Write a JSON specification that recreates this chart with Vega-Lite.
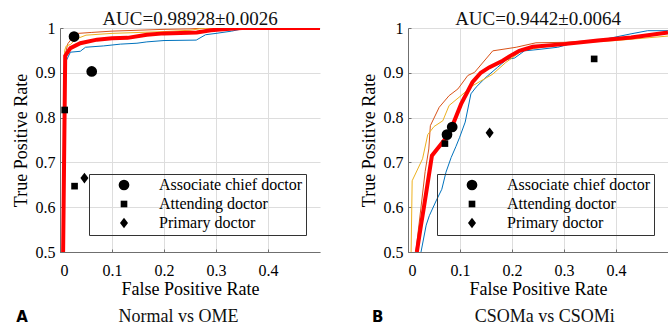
{
  "$schema": "https://vega.github.io/schema/vega-lite/v6.json",
  "padding": {"left": 12, "top": 10, "right": 0, "bottom": 0},
  "background": "white",
  "config": {
    "font": "Liberation Serif",
    "view": {"stroke": null},
    "legend": {"strokeColor": "#333333", "strokeWidth": 1},
    "title": {
      "font": "Liberation Serif",
      "fontSize": 19,
      "fontWeight": "normal",
      "color": "#111111",
      "frame": "group",
      "anchor": "middle",
      "baseline": "alphabetic",
      "offset": -9
    }
  },
  "datasets": {
    "curves": [
      {"panel": "A", "model": "Model 1", "fpr": 0.007, "tpr": 0.5},
      {"panel": "A", "model": "Model 1", "fpr": 0.010, "tpr": 0.9},
      {"panel": "A", "model": "Model 1", "fpr": 0.012, "tpr": 0.927},
      {"panel": "A", "model": "Model 1", "fpr": 0.020, "tpr": 0.946},
      {"panel": "A", "model": "Model 1", "fpr": 0.039, "tpr": 0.948},
      {"panel": "A", "model": "Model 1", "fpr": 0.049, "tpr": 0.957},
      {"panel": "A", "model": "Model 1", "fpr": 0.084, "tpr": 0.96},
      {"panel": "A", "model": "Model 1", "fpr": 0.116, "tpr": 0.964},
      {"panel": "A", "model": "Model 1", "fpr": 0.148, "tpr": 0.966},
      {"panel": "A", "model": "Model 1", "fpr": 0.167, "tpr": 0.969},
      {"panel": "A", "model": "Model 1", "fpr": 0.2, "tpr": 0.972},
      {"panel": "A", "model": "Model 1", "fpr": 0.262, "tpr": 0.973},
      {"panel": "A", "model": "Model 1", "fpr": 0.28, "tpr": 0.985},
      {"panel": "A", "model": "Model 1", "fpr": 0.3, "tpr": 0.988},
      {"panel": "A", "model": "Model 1", "fpr": 0.33, "tpr": 0.993},
      {"panel": "A", "model": "Model 1", "fpr": 0.35, "tpr": 0.998},
      {"panel": "A", "model": "Model 1", "fpr": 0.38, "tpr": 1.0},
      {"panel": "A", "model": "Model 1", "fpr": 0.5, "tpr": 1.0},
      {"panel": "A", "model": "Model 2", "fpr": 0.007, "tpr": 0.5},
      {"panel": "A", "model": "Model 2", "fpr": 0.010, "tpr": 0.94},
      {"panel": "A", "model": "Model 2", "fpr": 0.015, "tpr": 0.965},
      {"panel": "A", "model": "Model 2", "fpr": 0.025, "tpr": 0.98},
      {"panel": "A", "model": "Model 2", "fpr": 0.035, "tpr": 0.988},
      {"panel": "A", "model": "Model 2", "fpr": 0.06, "tpr": 0.99},
      {"panel": "A", "model": "Model 2", "fpr": 0.1, "tpr": 0.993},
      {"panel": "A", "model": "Model 2", "fpr": 0.15, "tpr": 0.995},
      {"panel": "A", "model": "Model 2", "fpr": 0.2, "tpr": 0.997},
      {"panel": "A", "model": "Model 2", "fpr": 0.25, "tpr": 0.998},
      {"panel": "A", "model": "Model 2", "fpr": 0.28, "tpr": 1.0},
      {"panel": "A", "model": "Model 2", "fpr": 0.5, "tpr": 1.0},
      {"panel": "A", "model": "Model 3", "fpr": 0.006, "tpr": 0.5},
      {"panel": "A", "model": "Model 3", "fpr": 0.009, "tpr": 0.95},
      {"panel": "A", "model": "Model 3", "fpr": 0.012, "tpr": 0.96},
      {"panel": "A", "model": "Model 3", "fpr": 0.02, "tpr": 0.963},
      {"panel": "A", "model": "Model 3", "fpr": 0.03, "tpr": 0.975},
      {"panel": "A", "model": "Model 3", "fpr": 0.05, "tpr": 0.984},
      {"panel": "A", "model": "Model 3", "fpr": 0.1, "tpr": 0.988},
      {"panel": "A", "model": "Model 3", "fpr": 0.2, "tpr": 0.992},
      {"panel": "A", "model": "Model 3", "fpr": 0.25, "tpr": 0.995},
      {"panel": "A", "model": "Model 3", "fpr": 0.28, "tpr": 1.0},
      {"panel": "A", "model": "Model 3", "fpr": 0.5, "tpr": 1.0},
      {"panel": "A", "model": "Mean", "fpr": 0.006, "tpr": 0.5},
      {"panel": "A", "model": "Mean", "fpr": 0.010, "tpr": 0.938},
      {"panel": "A", "model": "Mean", "fpr": 0.020, "tpr": 0.955},
      {"panel": "A", "model": "Mean", "fpr": 0.039, "tpr": 0.966},
      {"panel": "A", "model": "Mean", "fpr": 0.071, "tpr": 0.974},
      {"panel": "A", "model": "Mean", "fpr": 0.1, "tpr": 0.977},
      {"panel": "A", "model": "Mean", "fpr": 0.13, "tpr": 0.978},
      {"panel": "A", "model": "Mean", "fpr": 0.167, "tpr": 0.985},
      {"panel": "A", "model": "Mean", "fpr": 0.2, "tpr": 0.988},
      {"panel": "A", "model": "Mean", "fpr": 0.263, "tpr": 0.99},
      {"panel": "A", "model": "Mean", "fpr": 0.29, "tpr": 0.995},
      {"panel": "A", "model": "Mean", "fpr": 0.32, "tpr": 0.998},
      {"panel": "A", "model": "Mean", "fpr": 0.35, "tpr": 1.0},
      {"panel": "A", "model": "Mean", "fpr": 0.5, "tpr": 1.0},
      {"panel": "B", "model": "Model 1", "fpr": 0.025, "tpr": 0.5},
      {"panel": "B", "model": "Model 1", "fpr": 0.035, "tpr": 0.56},
      {"panel": "B", "model": "Model 1", "fpr": 0.041, "tpr": 0.581},
      {"panel": "B", "model": "Model 1", "fpr": 0.054, "tpr": 0.614},
      {"panel": "B", "model": "Model 1", "fpr": 0.065, "tpr": 0.64},
      {"panel": "B", "model": "Model 1", "fpr": 0.073, "tpr": 0.678},
      {"panel": "B", "model": "Model 1", "fpr": 0.083, "tpr": 0.711},
      {"panel": "B", "model": "Model 1", "fpr": 0.092, "tpr": 0.735},
      {"panel": "B", "model": "Model 1", "fpr": 0.099, "tpr": 0.755},
      {"panel": "B", "model": "Model 1", "fpr": 0.11, "tpr": 0.79},
      {"panel": "B", "model": "Model 1", "fpr": 0.121, "tpr": 0.853},
      {"panel": "B", "model": "Model 1", "fpr": 0.131, "tpr": 0.868},
      {"panel": "B", "model": "Model 1", "fpr": 0.15, "tpr": 0.89},
      {"panel": "B", "model": "Model 1", "fpr": 0.172, "tpr": 0.912},
      {"panel": "B", "model": "Model 1", "fpr": 0.19, "tpr": 0.93},
      {"panel": "B", "model": "Model 1", "fpr": 0.205, "tpr": 0.933},
      {"panel": "B", "model": "Model 1", "fpr": 0.224, "tpr": 0.949},
      {"panel": "B", "model": "Model 1", "fpr": 0.25, "tpr": 0.952},
      {"panel": "B", "model": "Model 1", "fpr": 0.288, "tpr": 0.957},
      {"panel": "B", "model": "Model 1", "fpr": 0.31, "tpr": 0.964},
      {"panel": "B", "model": "Model 1", "fpr": 0.365, "tpr": 0.972},
      {"panel": "B", "model": "Model 1", "fpr": 0.4, "tpr": 0.98},
      {"panel": "B", "model": "Model 1", "fpr": 0.429, "tpr": 0.987},
      {"panel": "B", "model": "Model 1", "fpr": 0.461, "tpr": 0.994},
      {"panel": "B", "model": "Model 1", "fpr": 0.5, "tpr": 0.994},
      {"panel": "B", "model": "Model 2", "fpr": 0.015, "tpr": 0.5},
      {"panel": "B", "model": "Model 2", "fpr": 0.025, "tpr": 0.6},
      {"panel": "B", "model": "Model 2", "fpr": 0.033, "tpr": 0.68},
      {"panel": "B", "model": "Model 2", "fpr": 0.040, "tpr": 0.73},
      {"panel": "B", "model": "Model 2", "fpr": 0.043, "tpr": 0.782},
      {"panel": "B", "model": "Model 2", "fpr": 0.06, "tpr": 0.823},
      {"panel": "B", "model": "Model 2", "fpr": 0.079, "tpr": 0.849},
      {"panel": "B", "model": "Model 2", "fpr": 0.096, "tpr": 0.864},
      {"panel": "B", "model": "Model 2", "fpr": 0.115, "tpr": 0.894},
      {"panel": "B", "model": "Model 2", "fpr": 0.128, "tpr": 0.901},
      {"panel": "B", "model": "Model 2", "fpr": 0.163, "tpr": 0.949},
      {"panel": "B", "model": "Model 2", "fpr": 0.208, "tpr": 0.957},
      {"panel": "B", "model": "Model 2", "fpr": 0.246, "tpr": 0.967},
      {"panel": "B", "model": "Model 2", "fpr": 0.3, "tpr": 0.968},
      {"panel": "B", "model": "Model 2", "fpr": 0.4, "tpr": 0.975},
      {"panel": "B", "model": "Model 2", "fpr": 0.5, "tpr": 0.988},
      {"panel": "B", "model": "Model 3", "fpr": 0.006, "tpr": 0.5},
      {"panel": "B", "model": "Model 3", "fpr": 0.008, "tpr": 0.659},
      {"panel": "B", "model": "Model 3", "fpr": 0.028, "tpr": 0.708},
      {"panel": "B", "model": "Model 3", "fpr": 0.038, "tpr": 0.762},
      {"panel": "B", "model": "Model 3", "fpr": 0.05, "tpr": 0.78},
      {"panel": "B", "model": "Model 3", "fpr": 0.067, "tpr": 0.793},
      {"panel": "B", "model": "Model 3", "fpr": 0.079, "tpr": 0.827},
      {"panel": "B", "model": "Model 3", "fpr": 0.102, "tpr": 0.849},
      {"panel": "B", "model": "Model 3", "fpr": 0.124, "tpr": 0.871},
      {"panel": "B", "model": "Model 3", "fpr": 0.163, "tpr": 0.897},
      {"panel": "B", "model": "Model 3", "fpr": 0.188, "tpr": 0.923},
      {"panel": "B", "model": "Model 3", "fpr": 0.22, "tpr": 0.95},
      {"panel": "B", "model": "Model 3", "fpr": 0.3, "tpr": 0.965},
      {"panel": "B", "model": "Model 3", "fpr": 0.4, "tpr": 0.972},
      {"panel": "B", "model": "Model 3", "fpr": 0.5, "tpr": 0.982},
      {"panel": "B", "model": "Mean", "fpr": 0.017, "tpr": 0.5},
      {"panel": "B", "model": "Mean", "fpr": 0.025, "tpr": 0.56},
      {"panel": "B", "model": "Mean", "fpr": 0.031, "tpr": 0.603},
      {"panel": "B", "model": "Mean", "fpr": 0.04, "tpr": 0.67},
      {"panel": "B", "model": "Mean", "fpr": 0.046, "tpr": 0.715},
      {"panel": "B", "model": "Mean", "fpr": 0.055, "tpr": 0.728},
      {"panel": "B", "model": "Mean", "fpr": 0.07, "tpr": 0.75},
      {"panel": "B", "model": "Mean", "fpr": 0.083, "tpr": 0.775},
      {"panel": "B", "model": "Mean", "fpr": 0.102, "tpr": 0.83},
      {"panel": "B", "model": "Mean", "fpr": 0.124, "tpr": 0.879},
      {"panel": "B", "model": "Mean", "fpr": 0.14, "tpr": 0.9},
      {"panel": "B", "model": "Mean", "fpr": 0.156, "tpr": 0.912},
      {"panel": "B", "model": "Mean", "fpr": 0.182, "tpr": 0.927},
      {"panel": "B", "model": "Mean", "fpr": 0.2, "tpr": 0.94},
      {"panel": "B", "model": "Mean", "fpr": 0.214, "tpr": 0.949},
      {"panel": "B", "model": "Mean", "fpr": 0.24, "tpr": 0.958},
      {"panel": "B", "model": "Mean", "fpr": 0.3, "tpr": 0.964},
      {"panel": "B", "model": "Mean", "fpr": 0.365, "tpr": 0.972},
      {"panel": "B", "model": "Mean", "fpr": 0.429, "tpr": 0.979},
      {"panel": "B", "model": "Mean", "fpr": 0.5, "tpr": 0.99}
    ],
    "doctors": [
      {"panel": "A", "doctor": "Associate chief doctor", "fpr": 0.027, "tpr": 0.981},
      {"panel": "A", "doctor": "Associate chief doctor", "fpr": 0.061, "tpr": 0.903},
      {"panel": "A", "doctor": "Attending doctor", "fpr": 0.009, "tpr": 0.817},
      {"panel": "A", "doctor": "Attending doctor", "fpr": 0.028, "tpr": 0.647},
      {"panel": "A", "doctor": "Primary doctor", "fpr": 0.047, "tpr": 0.665},
      {"panel": "B", "doctor": "Associate chief doctor", "fpr": 0.075, "tpr": 0.762},
      {"panel": "B", "doctor": "Associate chief doctor", "fpr": 0.085, "tpr": 0.779},
      {"panel": "B", "doctor": "Attending doctor", "fpr": 0.071, "tpr": 0.742},
      {"panel": "B", "doctor": "Attending doctor", "fpr": 0.358, "tpr": 0.931},
      {"panel": "B", "doctor": "Primary doctor", "fpr": 0.157, "tpr": 0.766}
    ],
    "captions": [
      {"panel": "A", "letter": "A", "caption": "Normal vs OME"},
      {"panel": "B", "letter": "B", "caption": "CSOMa vs CSOMi"}
    ]
  },
  "resolve": {"scale": {"shape": "independent", "color": "independent"}, "legend": {"shape": "independent"}},
  "spacing": 40,
  "hconcat": [
    {
      "width": 260,
      "height": 224,
      "title": {"text": "AUC=0.98928±0.0026"},
      "layer": [
        {
          "data": {"name": "curves"},
          "transform": [{"filter": "datum.panel == 'A' && datum.model != 'Mean'"}],
          "mark": {"type": "line", "strokeWidth": 1, "clip": true},
          "encoding": {
            "x": {"field": "fpr", "type": "quantitative", "scale": {"domain": [0, 0.5]}, "axis": {"title": "False Positive Rate", "values": [0, 0.1, 0.2, 0.3, 0.4], "format": "~g", "tickSize": -3, "domainColor": "#6f6f6f", "tickColor": "#6f6f6f", "labelFont": "Liberation Serif", "labelFontSize": 16, "labelPadding": 13, "titleFont": "Liberation Serif", "titleFontSize": 18, "titleFontWeight": "normal", "titlePadding": 2}},
            "y": {"field": "tpr", "type": "quantitative", "scale": {"domain": [0.5, 1]}, "axis": {"title": "True Positive Rate", "values": [0.5, 0.6, 0.7, 0.8, 0.9, 1], "format": "~g", "tickSize": -3, "domainColor": "#6f6f6f", "tickColor": "#6f6f6f", "labelFont": "Liberation Serif", "labelFontSize": 16, "labelPadding": 8, "titleFont": "Liberation Serif", "titleFontSize": 18, "titleFontWeight": "normal", "titlePadding": 5}},
            "color": {"field": "model", "type": "nominal", "scale": {"domain": ["Model 1", "Model 2", "Model 3"], "range": ["#0072BD", "#D95319", "#EDB120"]}, "legend": null}
          }
        },
        {
          "data": {"name": "curves"},
          "transform": [{"filter": "datum.panel == 'A' && datum.model == 'Mean'"}],
          "mark": {"type": "line", "strokeWidth": 4, "color": "#FF0000", "clip": true},
          "encoding": {
            "x": {"field": "fpr", "type": "quantitative"},
            "y": {"field": "tpr", "type": "quantitative"}
          }
        },
        {
          "data": {"name": "doctors"},
          "transform": [{"filter": "datum.panel == 'A'"}],
          "mark": {"type": "point", "filled": true, "color": "black", "opacity": 1, "size": 115},
          "encoding": {
            "x": {"field": "fpr", "type": "quantitative"},
            "y": {"field": "tpr", "type": "quantitative"},
            "shape": {"field": "doctor", "type": "nominal", "scale": {"domain": ["Associate chief doctor", "Attending doctor", "Primary doctor"], "range": ["circle", "M-0.62,-0.62L0.62,-0.62L0.62,0.62L-0.62,0.62Z", "M-0.75,0L0,-1L0.75,0L0,1Z"]},
              "legend": {"orient": "none", "legendX": 29, "legendY": 146, "title": null, "strokeColor": "#333333", "padding": 3, "symbolOffset": 24, "labelOffset": 27, "labelFontSize": 16, "labelLimit": 200, "rowPadding": 2, "symbolSize": 115}}
          }
        },
        {
          "data": {"name": "captions"},
          "transform": [{"filter": "datum.panel == 'A'"}],
          "mark": {"type": "text", "font": "Liberation Serif", "fontSize": 18, "color": "#111111", "baseline": "alphabetic", "align": "center", "clip": false},
          "encoding": {
            "x": {"datum": 0.228, "type": "quantitative"},
            "y": {"datum": 0.343, "type": "quantitative"},
            "text": {"field": "caption"}
          }
        },
        {
          "data": {"name": "captions"},
          "transform": [{"filter": "datum.panel == 'A'"}],
          "mark": {"type": "text", "font": "DejaVu Sans", "fontWeight": "bold", "fontSize": 15, "color": "#000000", "baseline": "alphabetic", "align": "center", "clip": false},
          "encoding": {
            "x": {"datum": -0.073, "type": "quantitative"},
            "y": {"datum": 0.343, "type": "quantitative"},
            "text": {"field": "letter"}
          }
        }
      ]
    },
    {
      "width": 260,
      "height": 224,
      "title": {"text": "AUC=0.9442±0.0064"},
      "layer": [
        {
          "data": {"name": "curves"},
          "transform": [{"filter": "datum.panel == 'B' && datum.model != 'Mean'"}],
          "mark": {"type": "line", "strokeWidth": 1, "clip": true},
          "encoding": {
            "x": {"field": "fpr", "type": "quantitative", "scale": {"domain": [0, 0.5]}, "axis": {"title": "False Positive Rate", "values": [0, 0.1, 0.2, 0.3, 0.4], "format": "~g", "tickSize": -3, "domainColor": "#6f6f6f", "tickColor": "#6f6f6f", "labelFont": "Liberation Serif", "labelFontSize": 16, "labelPadding": 13, "titleFont": "Liberation Serif", "titleFontSize": 18, "titleFontWeight": "normal", "titlePadding": 2}},
            "y": {"field": "tpr", "type": "quantitative", "scale": {"domain": [0.5, 1]}, "axis": {"title": "True Positive Rate", "values": [0.5, 0.6, 0.7, 0.8, 0.9, 1], "format": "~g", "tickSize": -3, "domainColor": "#6f6f6f", "tickColor": "#6f6f6f", "labelFont": "Liberation Serif", "labelFontSize": 16, "labelPadding": 8, "titleFont": "Liberation Serif", "titleFontSize": 18, "titleFontWeight": "normal", "titlePadding": 5}},
            "color": {"field": "model", "type": "nominal", "scale": {"domain": ["Model 1", "Model 2", "Model 3"], "range": ["#0072BD", "#D95319", "#EDB120"]}, "legend": null}
          }
        },
        {
          "data": {"name": "curves"},
          "transform": [{"filter": "datum.panel == 'B' && datum.model == 'Mean'"}],
          "mark": {"type": "line", "strokeWidth": 4, "color": "#FF0000", "clip": true},
          "encoding": {
            "x": {"field": "fpr", "type": "quantitative"},
            "y": {"field": "tpr", "type": "quantitative"}
          }
        },
        {
          "data": {"name": "doctors"},
          "transform": [{"filter": "datum.panel == 'B'"}],
          "mark": {"type": "point", "filled": true, "color": "black", "opacity": 1, "size": 115},
          "encoding": {
            "x": {"field": "fpr", "type": "quantitative"},
            "y": {"field": "tpr", "type": "quantitative"},
            "shape": {"field": "doctor", "type": "nominal", "scale": {"domain": ["Associate chief doctor", "Attending doctor", "Primary doctor"], "range": ["circle", "M-0.62,-0.62L0.62,-0.62L0.62,0.62L-0.62,0.62Z", "M-0.75,0L0,-1L0.75,0L0,1Z"]},
              "legend": {"orient": "none", "legendX": 29, "legendY": 146, "title": null, "strokeColor": "#333333", "padding": 3, "symbolOffset": 24, "labelOffset": 27, "labelFontSize": 16, "labelLimit": 200, "rowPadding": 2, "symbolSize": 115}}
          }
        },
        {
          "data": {"name": "captions"},
          "transform": [{"filter": "datum.panel == 'B'"}],
          "mark": {"type": "text", "font": "Liberation Serif", "fontSize": 18, "color": "#111111", "baseline": "alphabetic", "align": "center", "clip": false},
          "encoding": {
            "x": {"datum": 0.263, "type": "quantitative"},
            "y": {"datum": 0.343, "type": "quantitative"},
            "text": {"field": "caption"}
          }
        },
        {
          "data": {"name": "captions"},
          "transform": [{"filter": "datum.panel == 'B'"}],
          "mark": {"type": "text", "font": "DejaVu Sans", "fontWeight": "bold", "fontSize": 15, "color": "#000000", "baseline": "alphabetic", "align": "center", "clip": false},
          "encoding": {
            "x": {"datum": -0.058, "type": "quantitative"},
            "y": {"datum": 0.343, "type": "quantitative"},
            "text": {"field": "letter"}
          }
        }
      ]
    }
  ]
}
